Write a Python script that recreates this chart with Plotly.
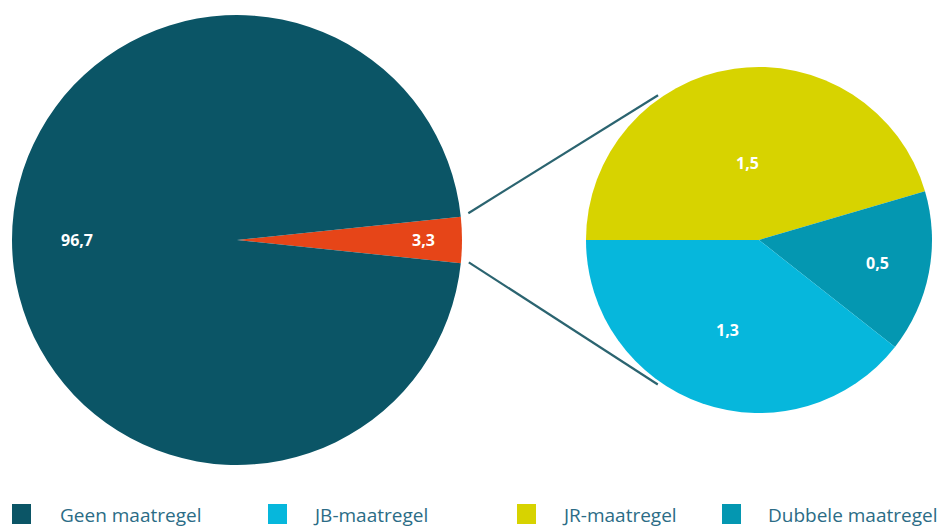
import math
import plotly.graph_objects as go

# ---- data ----
main_labels = ["Maatregel", "Geen maatregel"]
main_values = [3.3, 96.7]
detail_labels = ["JR-maatregel", "Dubbele maatregel", "JB-maatregel"]
detail_values = [1.5, 0.5, 1.3]
legend_labels = ["Geen maatregel", "JB-maatregel", "JR-maatregel", "Dubbele maatregel"]

# ---- styles ----
W, H = 937, 527
C_DARK = "#0b5566"
C_ORANGE = "#e64518"
C_CYAN = "#06b7dc"
C_YELLOW = "#d7d300"
C_TEAL = "#0497b1"
main_colors = [C_ORANGE, C_DARK]
detail_colors = [C_YELLOW, C_TEAL, C_CYAN]
legend_colors = [C_DARK, C_CYAN, C_YELLOW, C_TEAL]
LABEL_FONT = dict(family="Open Sans", size=16, color="white", weight="bold")

# pie geometry in page pixels (center x, center y from top, radius)
L_CX, L_CY, L_R = 237, 240, 225
R_CX, R_CY, R_R = 759, 240, 173
main_label_r = [0.83, 0.71]          # radial label position, fraction of radius
detail_label_r = [0.45, 0.70, 0.55]


def px(x):
    return x / W


def py(y):
    return (H - y) / H


def dom(cx, cy, r):
    return dict(x=[px(cx - r), px(cx + r)], y=[py(cy + r), py(cy - r)])


def pt(cx, cy, r, ang):
    a = math.radians(ang)
    return px(cx + r * math.cos(a)), py(cy - r * math.sin(a))


main_total = sum(main_values)
half = main_values[0] / main_total * 360 / 2

fig = go.Figure()
fig.add_trace(go.Pie(
    labels=main_labels, values=main_values, sort=False, direction="clockwise",
    rotation=90 - half, domain=dom(L_CX, L_CY, L_R),
    marker=dict(colors=main_colors, line=dict(width=0)),
    textinfo="none", hoverinfo="label+value", showlegend=False,
))
fig.add_trace(go.Pie(
    labels=detail_labels, values=detail_values, sort=False, direction="clockwise",
    rotation=270, domain=dom(R_CX, R_CY, R_R),
    marker=dict(colors=detail_colors, line=dict(width=0)),
    textinfo="none", hoverinfo="label+value", showlegend=False,
))

annotations = []


def add_labels(values, start_ang, cx, cy, r, fracs):
    total = sum(values)
    acc = start_ang
    for v, rf in zip(values, fracs):
        span = v / total * 360
        mid = acc - span / 2
        acc -= span
        x, y = pt(cx, cy, r * rf, mid)
        annotations.append(dict(text=f"{v:.1f}".replace(".", ","), x=x, y=y,
                                xref="paper", yref="paper", showarrow=False,
                                xanchor="center", yanchor="middle", font=LABEL_FONT))


add_labels(main_values, half, L_CX, L_CY, L_R, main_label_r)
add_labels(detail_values, 180, R_CX, R_CY, R_R, detail_label_r)

shapes = []
for a1, a2 in [(6.6, 124.9), (-5.5, -125.0)]:
    x0, y0 = pt(L_CX, L_CY, L_R * 1.035, a1)
    x1, y1 = pt(R_CX, R_CY, R_R * 1.02, a2)
    shapes.append(dict(type="line", xref="paper", yref="paper",
                       x0=x0, y0=y0, x1=x1, y1=y1,
                       line=dict(color="#2b6470", width=2.2)))

# legend (manual, to match irregular spacing)
leg_sq_x = [12, 268, 517, 722]
leg_txt_x = [58, 311, 560, 766]
leg_y = 514
for i, lab in enumerate(legend_labels):
    shapes.append(dict(type="rect", xref="paper", yref="paper",
                       x0=px(leg_sq_x[i]), x1=px(leg_sq_x[i] + 19),
                       y0=py(leg_y + 10), y1=py(leg_y - 10),
                       fillcolor=legend_colors[i], line=dict(width=0)))
    annotations.append(dict(text=lab, xref="paper", yref="paper",
                            x=px(leg_txt_x[i]), y=py(leg_y + 1),
                            xanchor="left", yanchor="middle", showarrow=False,
                            font=dict(family="Open Sans", size=19, color="#2b6c86")))

fig.update_layout(
    width=W, height=H, margin=dict(l=0, r=0, t=0, b=0),
    paper_bgcolor="white", plot_bgcolor="white",
    shapes=shapes, annotations=annotations,
    showlegend=False,
)

fig.write_html("out.html", config={"displayModeBar": False},
               post_script="document.body.style.margin='0';document.body.style.overflow='hidden';")
